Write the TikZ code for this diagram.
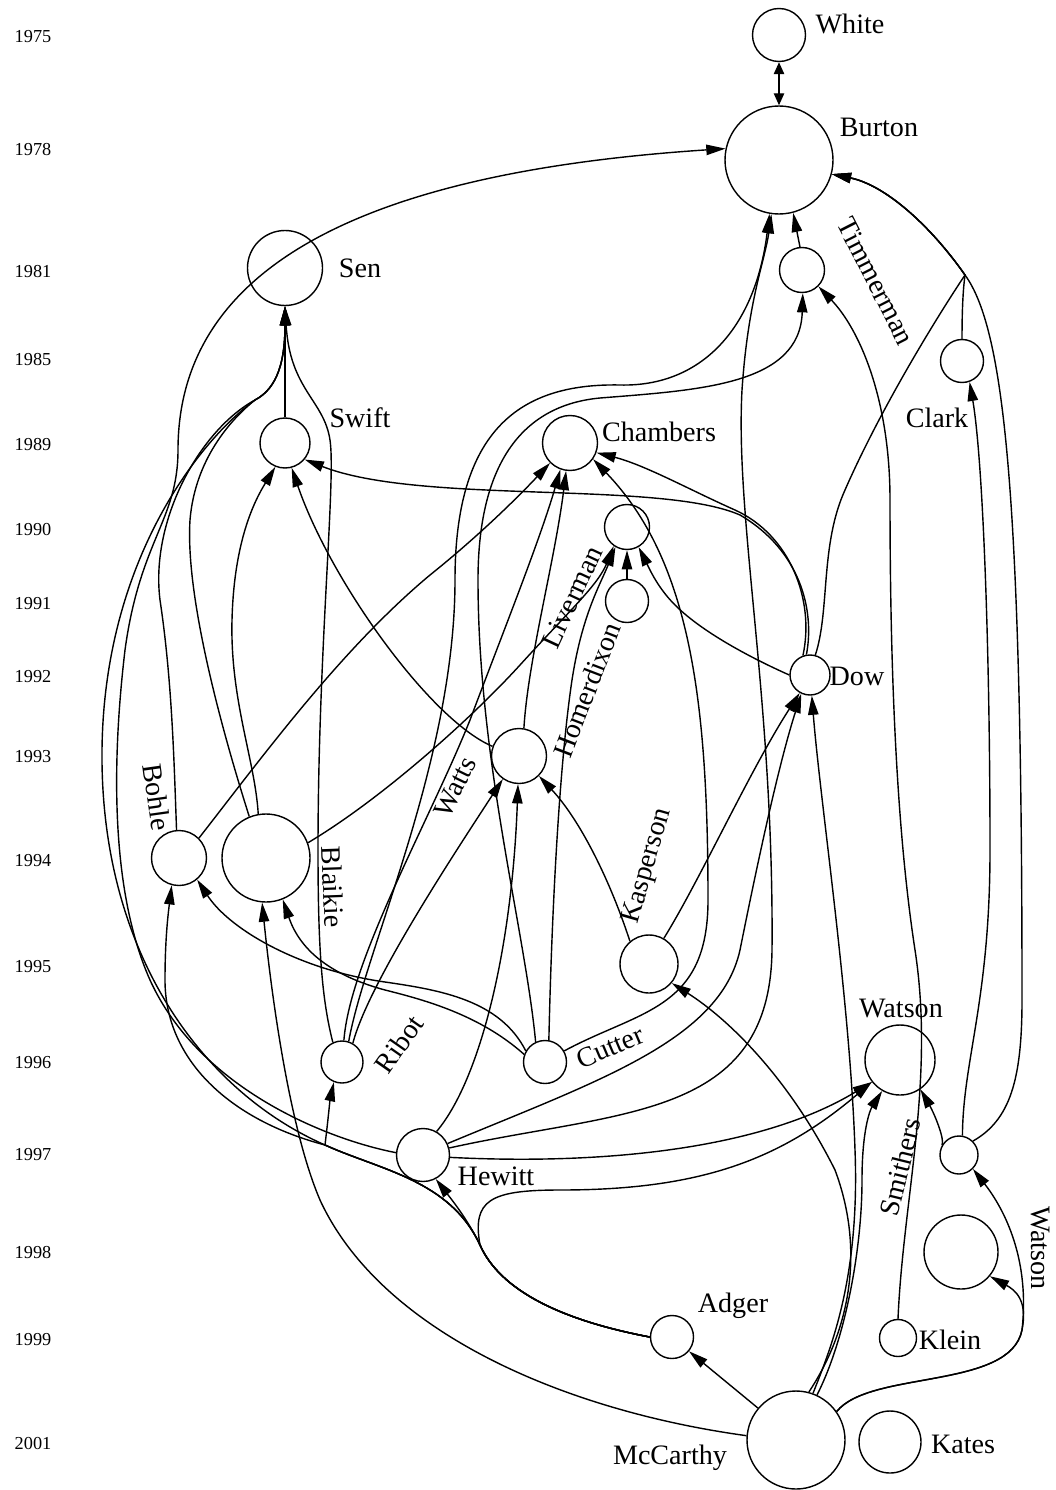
\documentclass[tikz,border=0pt]{standalone}
\usepackage{fontspec}
\setmainfont{Liberation Serif}
\usetikzlibrary{arrows.meta,positioning}

\begin{document}
\begin{tikzpicture}[
    x=0.25mm, y=-0.25mm,
    actor/.style={circle, draw, line width=1pt, inner sep=0pt, minimum size=#1},
    lbl/.style={font=\fontsize{20}{24}\selectfont, inner sep=0pt},
    yearlbl/.style={font=\fontsize{13}{15}\selectfont, inner sep=0pt},
    cite/.style={-{Triangle[length=4.8mm, width=2.6mm]}, line width=1pt},
    mutual/.style={{Triangle[length=3mm, width=2.6mm]}-{Triangle[length=3mm, width=2.6mm]}, line width=1pt},
]
    \useasboundingbox (0,0) rectangle (1055,1490);

    % year scale
    \foreach \yr/\yy in {1975/37, 1978/150, 1981/272, 1985/360, 1989/445, 1990/530, 1991/604, 1992/677,
                         1993/757, 1994/861, 1995/967, 1996/1063, 1997/1155, 1998/1252, 1999/1340, 2001/1443}
        \node[yearlbl] (y\yr) at (33,\yy) {\yr};

    % authors
    \node[actor=13.25mm] (white) at (779,35) {};
    \node[actor=27mm] (burton) at (779,160) {};
    \node[actor=18.75mm] (sen) at (285,268) {};
    \node[actor=11.25mm] (timm) at (802,270) {};
    \node[actor=10.75mm] (clark) at (962,361) {};
    \node[actor=12.5mm] (swift) at (285,443) {};
    \node[actor=13.75mm] (chambers) at (570,443) {};
    \node[actor=11.25mm] (n1990) at (627,527) {};
    \node[actor=10.75mm] (n1991) at (627,601) {};
    \node[actor=10mm] (dow) at (810,675) {};
    \node[actor=13.75mm] (n1993) at (519,756) {};
    \node[actor=13.75mm] (bohle) at (179,858) {};
    \node[actor=22mm] (n1994) at (266,858) {};
    \node[actor=14.5mm] (kasp) at (649,964) {};
    \node[actor=17.5mm] (watson) at (900,1060) {};
    \node[actor=10.5mm] (ribot) at (342,1062) {};
    \node[actor=10.75mm] (cutter) at (545,1062) {};
    \node[actor=13.25mm] (hewitt) at (423,1155) {};
    \node[actor=9.5mm] (smith) at (959,1155) {};
    \node[actor=18.5mm] (n1998) at (961,1252) {};
    \node[actor=10.75mm] (adger) at (672,1337) {};
    \node[actor=9.25mm] (klein) at (898,1338) {};
    \node[actor=24.5mm] (mccarthy) at (796,1440) {};
    \node[actor=15.5mm] (kates) at (890,1442) {};

    % names
    \node[lbl] (lwhite) at (850,24) {White};
    \node[lbl] (lburton) at (879,127) {Burton};
    \node[lbl] (lsen) at (360,268) {Sen};
    \node[lbl, rotate=-63] (ltimm) at (876,281) {Timmerman};
    \node[lbl] (lclark) at (937,418) {Clark};
    \node[lbl] (lswift) at (360,418) {Swift};
    \node[lbl] (lchambers) at (659,432) {Chambers};
    \node[lbl, rotate=65] (lliverman) at (572,597) {Liverman};
    \node[lbl, rotate=69] (lhomer) at (587,690) {Homerdixon};
    \node[lbl] (ldow) at (857,676) {Dow};
    \node[lbl, rotate=64] (lwatts) at (455,787) {Watts};
    \node[lbl, rotate=-82] (lbohle) at (157,797) {Bohle};
    \node[lbl, rotate=-88] (lblaikie) at (333,887) {Blaikie};
    \node[lbl, rotate=74] (lkasp) at (648,866) {Kasperson};
    \node[lbl, rotate=55] (lribot) at (399,1044) {Ribot};
    \node[lbl, rotate=23] (lcutter) at (610,1047) {Cutter};
    \node[lbl] (lwatson) at (901,1008) {Watson};
    \node[lbl] (lhewitt) at (496,1176) {Hewitt};
    \node[lbl, rotate=76] (lsmith) at (900,1167) {Smithers};
    \node[lbl, rotate=-90] (lwatson2) at (1040,1248) {Watson};
    \node[lbl] (ladger) at (733,1306) {Adger};
    \node[lbl] (lklein) at (950,1340) {Klein};
    \node[lbl] (lmccarthy) at (670,1458) {McCarthy};
    \node[lbl] (lkates) at (963,1444) {Kates};

    % citations into Burton, Timmerman, Clark
    \draw[mutual] (white.south) -- (burton.north);
    \draw[cite] (timm.95) -- (burton.285);
    \draw[cite] (hewitt.175) .. controls (330,1140) and (200,1090) .. (150,980) .. controls (110,890) and (112,760) .. (125,650) .. controls (140,540) and (178,520) .. (178,450) .. controls (178,250) and (400,170) .. (burton.168);
    \draw[cite] (hewitt.15) .. controls (620,1110) and (770,1120) .. (772,950) .. controls (774,700) and (735,520) .. (742,390) .. controls (748,300) and (765,260) .. (burton.262);
    \draw[cite] (ribot.72) .. controls (365,950) and (455,760) .. (455,580) .. controls (455,430) and (520,383) .. (620,385) .. controls (700,387) and (755,330) .. (burton.260);
    \draw[cite] (cutter.115) .. controls (525,930) and (478,760) .. (478,580) .. controls (478,460) and (525,405) .. (600,398) .. controls (700,390) and (800,385) .. (timm.272);
    \draw[cite] (smith.45) .. controls (1010,1120) and (1022,1080) .. (1022,1000) .. controls (1022,500) and (1005,330) .. (965,275) .. controls (930,225) and (885,185) .. (burton.345);
    \draw[cite] (clark.north) .. controls (962,310) and (963,290) .. (965,275) .. controls (930,225) and (885,185) .. (burton.345);
    \draw[cite] (dow.75) .. controls (830,610) and (820,545) .. (845,490) .. controls (880,410) and (935,320) .. (965,275) .. controls (930,225) and (885,185) .. (burton.345);
    \draw[cite] (klein.north) .. controls (903,1200) and (935,1080) .. (915,950) .. controls (895,820) and (890,650) .. (890,500) .. controls (890,400) and (860,330) .. (timm.315);
    \draw[cite] (smith.80) .. controls (963,1060) and (990,1000) .. (990,850) .. controls (990,650) and (983,460) .. (clark.290);

    % citations into Sen and Swift
    \draw[cite] (swift.north) -- (sen.south);
    \draw[cite] (bohle.95) .. controls (174,760) and (172,680) .. (160,600) .. controls (150,520) and (200,430) .. (255,400) .. controls (278,388) and (285,360) .. (sen.south);
    \draw[cite] (n1994.112) .. controls (225,740) and (185,600) .. (190,520) .. controls (195,460) and (230,420) .. (255,400) .. controls (278,388) and (285,360) .. (sen.south);
    \draw[cite] (adger.180) .. controls (560,1320) and (500,1290) .. (480,1245) .. controls (450,1180) and (380,1170) .. (325,1145) .. controls (200,1090) and (100,950) .. (102,750) .. controls (104,560) and (200,440) .. (255,400) .. controls (278,388) and (285,360) .. (sen.south);
    \draw[cite] (ribot.115) .. controls (322,1000) and (318,950) .. (318,850) .. controls (318,650) and (336,480) .. (330,440) .. controls (324,400) and (290,390) .. (sen.south);
    \draw[cite] (n1994.100) .. controls (255,760) and (230,700) .. (232,620) .. controls (234,540) and (255,500) .. (swift.248);
    \draw[cite] (n1993.160) .. controls (430,720) and (330,580) .. (swift.285);
    \draw[cite] (dow.100) .. controls (815,610) and (800,550) .. (740,515) .. controls (660,480) and (420,505) .. (swift.320);

    % citations into Chambers and the 1990 paper
    \draw[cite] (dow.110) .. controls (815,600) and (790,535) .. (735,510) .. controls (690,490) and (645,465) .. (chambers.340);
    \draw[cite] (bohle.45) .. controls (260,760) and (340,650) .. (430,575) .. controls (480,535) and (520,495) .. (chambers.225);
    \draw[cite] (ribot.85) .. controls (350,960) and (430,820) .. (470,720) .. controls (500,640) and (540,540) .. (chambers.250);
    \draw[cite] (n1993.80) .. controls (528,660) and (555,560) .. (chambers.262);
    \draw[cite] (cutter.30) .. controls (640,1010) and (708,1010) .. (708,900) .. controls (708,700) and (690,560) .. (chambers.325);
    \draw[cite] (cutter.80) .. controls (552,900) and (560,760) .. (572,680) .. controls (582,615) and (600,585) .. (n1990.240);
    \draw[cite] (n1991.north) -- (n1990.south);
    \draw[cite] (dow.180) .. controls (760,662) and (705,635) .. (675,605) .. controls (658,588) and (650,570) .. (n1990.300);
    \draw[cite] (n1994.20) .. controls (380,800) and (470,720) .. (520,665) .. controls (570,610) and (598,585) .. (n1990.235);

    % citations into Dow and the 1993 paper
    \draw[cite] (kasp.60) .. controls (700,880) and (750,770) .. (dow.240);
    \draw[cite] (hewitt.25) .. controls (600,1080) and (720,1040) .. (740,950) .. controls (760,850) and (780,760) .. (dow.245);
    \draw[cite] (mccarthy.70) .. controls (830,1350) and (860,1280) .. (855,1150) .. controls (850,1000) and (820,800) .. (dow.275);
    \draw[cite] (ribot.60) .. controls (368,985) and (450,860) .. (n1993.235);
    \draw[cite] (hewitt.60) .. controls (480,1080) and (512,950) .. (n1993.268);
    \draw[cite] (kasp.130) .. controls (610,880) and (580,820) .. (n1993.315);

    % citations into Bohle and the 1994 paper
    \draw[cite] (cutter.150) .. controls (500,1000) and (440,990) .. (385,982) .. controls (300,970) and (230,930) .. (bohle.310);
    \draw[cite] (adger.180) .. controls (560,1320) and (500,1290) .. (480,1245) .. controls (450,1180) and (380,1170) .. (325,1145) .. controls (230,1120) and (165,1060) .. (165,980) .. controls (165,940) and (168,915) .. (bohle.255);
    \draw[cite] (mccarthy.175) .. controls (560,1410) and (380,1330) .. (320,1200) .. controls (290,1130) and (272,1000) .. (n1994.265);
    \draw[cite] (cutter.160) .. controls (480,1015) and (425,1000) .. (385,990) .. controls (330,975) and (300,950) .. (n1994.292);

    % citations into Ribot, Hewitt, Adger, Kasperson
    \draw[cite] (adger.180) .. controls (560,1320) and (500,1290) .. (480,1245) .. controls (450,1180) and (380,1170) .. (325,1145) .. controls (328,1120) and (330,1100) .. (ribot.248);
    \draw[cite] (adger.180) .. controls (560,1320) and (500,1290) .. (480,1245) .. controls (468,1220) and (452,1200) .. (hewitt.298);
    \draw[cite] (mccarthy.140) -- (adger.320);
    \draw[cite] (mccarthy.75) .. controls (850,1330) and (865,1250) .. (835,1170) .. controls (790,1080) and (730,1020) .. (kasp.320);

    % citations into Watson, Smithers and the 1998 paper
    \draw[cite] (adger.180) .. controls (560,1320) and (500,1290) .. (480,1245) .. controls (472,1200) and (490,1190) .. (560,1190) .. controls (700,1190) and (780,1160) .. (watson.218);
    \draw[cite] (hewitt.355) .. controls (600,1165) and (760,1150) .. (watson.218);
    \draw[cite] (mccarthy.65) .. controls (845,1340) and (862,1250) .. (862,1180) .. controls (862,1130) and (870,1110) .. (watson.240);
    \draw[cite] (smith.150) .. controls (945,1140) and (935,1115) .. (watson.305);
    \draw[cite] (mccarthy.35) .. controls (870,1370) and (1010,1390) .. (1022,1330) .. controls (1030,1260) and (1005,1210) .. (smith.315);
    \draw[cite] (mccarthy.35) .. controls (870,1370) and (1010,1390) .. (1022,1330) .. controls (1028,1300) and (1015,1290) .. (n1998.320);
\end{tikzpicture}
\end{document}
